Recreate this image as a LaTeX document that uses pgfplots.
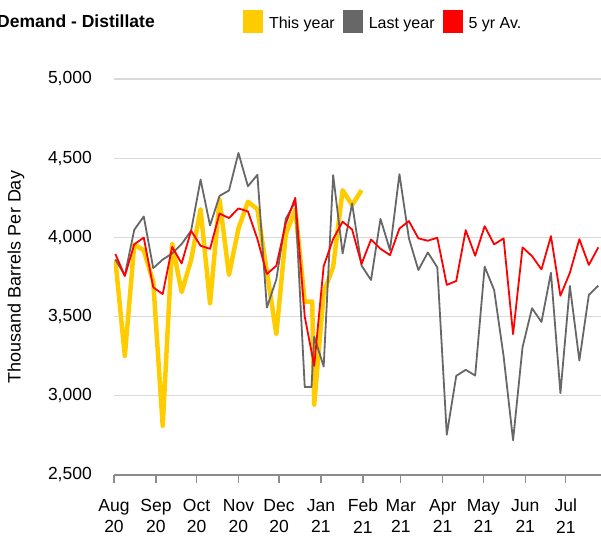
\documentclass[border=0pt]{standalone}
\usepackage{fontspec}
\setmainfont{Liberation Sans}
\usepackage{pgfplots}
\pgfplotsset{compat=1.18}

\definecolor{thisyr}{HTML}{FFCC00}
\definecolor{lastyr}{HTML}{676767}
\definecolor{fiveyr}{HTML}{FF0000}
\definecolor{gridc}{HTML}{D9D9D9}
\definecolor{axc}{HTML}{8C8C8C}

\begin{document}
\begin{tikzpicture}
\begin{axis}[
  name=ax, at={(0,0)}, anchor=south west,
  width=487pt, height=396pt, scale only axis,
  xmin=0, xmax=360, ymin=2500, ymax=5000,
  ytick={2500,3000,...,5000},
  xtick={0,31,61,92,122,153,184,212,243,273,304,334},
  xticklabels={Aug\\20,Sep\\20,Oct\\20,Nov\\20,Dec\\20,Jan\\21,Feb\\21,Mar\\21,Apr\\21,May\\21,Jun\\21,Jul\\21},
  axis lines*=left,
  x axis line style={axc, line width=1.2pt},
  y axis line style={draw=none},
  ymajorgrids, grid style={gridc, line width=1.3pt},
  tick align=outside,
  xtick style={axc, line width=1.2pt},
  ytick style={draw=none},
  major tick length=8pt,
  /pgf/number format/assume math mode=true,
  /pgf/number format/1000 sep={,},
  yticklabel style={font=\fontsize{17.5}{21}\selectfont, inner sep=0pt, anchor=east, xshift=-14pt},
  xticklabel style={font=\fontsize{17.5}{21.5}\selectfont, align=center, inner sep=0pt, anchor=north, yshift=-16pt},
  ylabel={Thousand Barrels Per Day},
  ylabel style={at={(axis description cs:-0.2012,0.5)}, anchor=center, font=\fontsize{18}{21}\selectfont},
  title={Demand - Distillate},
  title style={at={(axis description cs:-0.2402,1.1288)}, anchor=base west, yshift=-6pt, inner sep=0pt, font=\bfseries\fontsize{17.5}{21}\selectfont},
  legend image code/.code={\fill[#1, draw=none] (0pt,-5pt) rectangle (20pt,18pt);},
  legend style={at={(axis description cs:0.2649,1.1742)}, anchor=north west, draw=none, fill=none,
    inner sep=0pt, outer sep=0pt, legend columns=3, font=\fontsize{16}{19}\selectfont,
    cells={anchor=base west},
    nodes={inner sep=0pt, text depth=0pt},
    /tikz/every odd column/.append style={column sep=6pt},
    /tikz/every even column/.append style={column sep=8pt}},
]
% This year
\addplot[thisyr, line width=4.5pt, line join=round, mark=none] coordinates {
  (1,3860) (8,3252) (15,3955) (22,3918) (29,3720) (36,2811) (43,3960) (50,3655)
  (57,3857) (64,4178) (71,3584) (78,4239) (85,3763) (92,4056) (99,4225) (106,4178)
  (113,3785) (120,3389) (127,4020) (134,4175) (141,3595) (146.5,3595) (148,2944)
  (155,3650) (162,3815) (169,4298) (176,4204) (183,4298)
};
\addlegendentry{This year}
% Last year
\addplot[lastyr, line width=1.8pt, line join=round, mark=none] coordinates {
  (1,3861) (8,3760) (15,4048) (22,4132) (29,3806) (36,3860) (43,3899) (50,3958)
  (57,4042) (64,4365) (71,4075) (78,4262) (85,4296) (92,4533) (99,4323) (106,4395)
  (113,3557) (120,3735) (127,4118) (134,4225) (141,3055) (146,3055) (148,3374)
  (155,3185) (162,4393) (169,3899) (176,4214) (183,3822) (190,3731) (197,4117)
  (204,3920) (211,4399) (218,3994) (225,3794) (232,3905) (239,3811) (246,2755)
  (253,3126) (260,3164) (267,3128) (274,3815) (281,3668) (288,3250) (295,2719)
  (302,3307) (309,3553) (316,3466) (323,3777) (330,3017) (337,3693) (344,3223)
  (351,3637) (358,3695)
};
\addlegendentry{Last year}
% 5 yr average
\addplot[fiveyr, line width=1.8pt, line join=round, mark=none] coordinates {
  (1,3895) (8,3756) (15,3956) (22,3999) (29,3685) (36,3642) (43,3940) (50,3836)
  (57,4042) (64,3947) (71,3928) (78,4151) (85,4122) (92,4183) (99,4164) (106,3990)
  (113,3769) (120,3821) (127,4088) (134,4250) (141,3500) (148,3190) (155,3819)
  (162,3990) (169,4099) (176,4050) (183,3832) (190,3987) (197,3928) (204,3888)
  (211,4056) (218,4103) (225,3994) (232,3979) (239,3998) (246,3700) (253,3725)
  (260,4046) (267,3884) (274,4071) (281,3956) (288,3994) (295,3389) (302,3937)
  (309,3882) (316,3798) (323,4008) (330,3632) (337,3777) (344,3989) (351,3826)
  (358,3937)
};
\addlegendentry{5 yr Av.}
\end{axis}
\pgfresetboundingbox
\useasboundingbox (-114pt,-61pt) rectangle (487pt,475pt);
\end{tikzpicture}
\end{document}
